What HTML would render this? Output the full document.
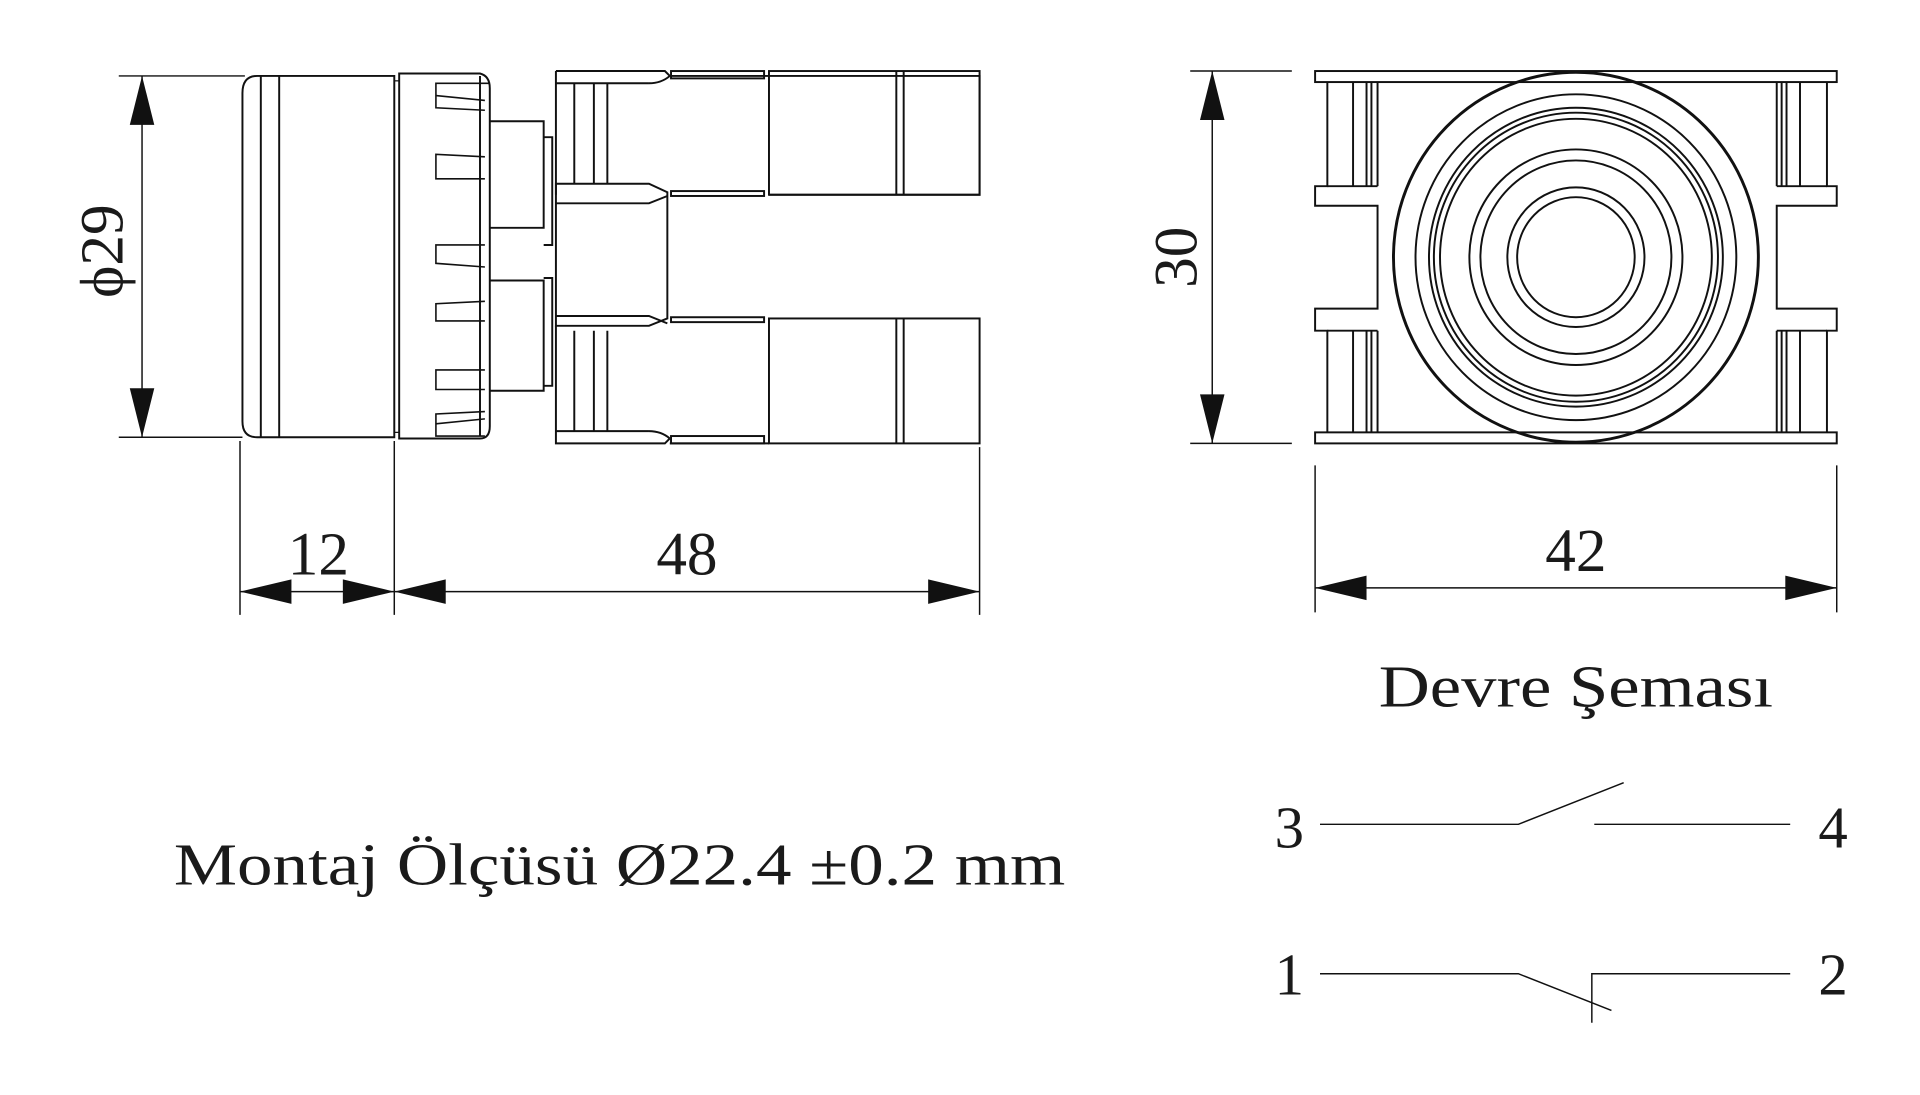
<!DOCTYPE html>
<html><head><meta charset="utf-8"><style>
html,body{margin:0;padding:0;background:#fff;}
svg{display:block;}
text{font-family:"Liberation Serif",serif;fill:#1a1a1a;}
</style></head><body>
<svg width="1920" height="1095" viewBox="0 0 1568 894" preserveAspectRatio="none" xmlns="http://www.w3.org/2000/svg">
<g fill="none" stroke="#111" stroke-width="1.6">
<!-- LEFT VIEW -->
<path d="M322,62 H210 Q198,62 198,76 V344 Q198,357 210,357 H322 Z"/>
<line x1="213" y1="62" x2="213" y2="357"/>
<line x1="228" y1="62" x2="228" y2="357"/>
<rect x="322" y="66" width="4" height="287" stroke-width="1"/>
<path d="M326,60 H392 Q400,62 400,72 V348 Q400,358 392,358 H326 Z"/>
<line x1="392" y1="62" x2="392" y2="356"/>
<g stroke-width="1.3">
<path d="M400,68 H356 V88 L396,90"/><path d="M356,78 L396,82"/>
<path d="M396,128 L356,126 V146 L396,146"/>
<path d="M396,200 L356,200 V215 L396,218"/>
<path d="M396,246 L356,248 V262 L396,262"/>
<path d="M396,302 L356,302 V318 L396,318"/>
<path d="M396,336 L356,338 V356 H396"/><path d="M356,346 L396,342"/>
</g>
<!-- stem -->
<path d="M400,99 H444 V186 H400"/>
<path d="M400,229 H444 V319 H400"/>
<path d="M444,112 H451 V200 H444"/>
<path d="M444,227 H451 V315 H444"/>
<!-- contact block top -->
<path d="M454,58 H543 L547,62 H800 V159 H628"/>
<path d="M454,58 V159"/>
<line x1="454" y1="68" x2="530" y2="68"/><path d="M530,68 Q540,68 547,62"/>
<line x1="469" y1="68" x2="469" y2="150"/>
<line x1="485" y1="68" x2="485" y2="150"/>
<line x1="496" y1="68" x2="496" y2="150"/>
<rect x="548" y="58" width="76" height="6"/>
<rect x="628" y="58" width="172" height="101"/>
<line x1="732" y1="58" x2="732" y2="159"/>
<line x1="738" y1="58" x2="738" y2="159"/>
<!-- middle -->
<path d="M454,150 H530 L545,157 V260 L530,266 H454 Z"/>
<path d="M454,166 H530 L545,160"/><path d="M454,258 H530 L545,264"/>
<rect x="548" y="156" width="76" height="4"/>
<rect x="548" y="259" width="76" height="4"/>
<!-- bottom block -->
<path d="M454,266 V362 H543 L547,358"/>
<line x1="454" y1="352" x2="530" y2="352"/><path d="M530,352 Q540,352 547,358"/>
<line x1="469" y1="270" x2="469" y2="352"/>
<line x1="485" y1="270" x2="485" y2="352"/>
<line x1="496" y1="270" x2="496" y2="352"/>
<rect x="548" y="356" width="76" height="6"/>
<rect x="628" y="260" width="172" height="102"/>
<line x1="732" y1="260" x2="732" y2="362"/>
<line x1="738" y1="260" x2="738" y2="362"/>
<line x1="547" y1="362" x2="628" y2="362"/>
</g>
<!-- dimensions -->
<g stroke="#111" stroke-width="1.2" fill="none">
<line x1="97" y1="62" x2="200" y2="62"/>
<line x1="97" y1="357" x2="198" y2="357"/>
<line x1="116" y1="62" x2="116" y2="357"/>
<line x1="196" y1="360" x2="196" y2="502"/>
<line x1="322" y1="360" x2="322" y2="502"/>
<line x1="800" y1="365" x2="800" y2="502"/>
<line x1="196" y1="483" x2="800" y2="483"/>
<line x1="1074" y1="380" x2="1074" y2="500"/>
<line x1="1500" y1="380" x2="1500" y2="500"/>
<line x1="1074" y1="480" x2="1500" y2="480"/>
<line x1="972" y1="58" x2="1055" y2="58"/>
<line x1="972" y1="362" x2="1055" y2="362"/>
<line x1="990" y1="58" x2="990" y2="362"/>
</g>
<g fill="#111">
<path d="M116,62 L106,102 L126,102 Z"/>
<path d="M116,357 L106,317 L126,317 Z"/>
<path d="M196,483 L238,473 L238,493 Z"/>
<path d="M322,483 L280,473 L280,493 Z"/>
<path d="M322,483 L364,473 L364,493 Z"/>
<path d="M800,483 L758,473 L758,493 Z"/>
<path d="M1074,480 L1116,470 L1116,490 Z"/>
<path d="M1500,480 L1458,470 L1458,490 Z"/>
<path d="M990,58 L980,98 L1000,98 Z"/>
<path d="M990,362 L980,322 L1000,322 Z"/>
</g>
<!-- RIGHT VIEW -->
<g fill="none" stroke="#111" stroke-width="1.6">
<rect x="1074" y="58" width="426" height="9"/>
<rect x="1074" y="353" width="426" height="9"/>
<path d="M1084,67 V152 H1074 V168 H1125 V252 H1074 V270 H1084 V353"/>
<path d="M1125,67 V152"/><path d="M1125,270 V353"/>
<path d="M1084,270 H1125"/><path d="M1084,152 H1125"/>
<line x1="1105" y1="67" x2="1105" y2="152"/><line x1="1116" y1="67" x2="1116" y2="152"/><line x1="1120" y1="67" x2="1120" y2="152"/>
<line x1="1105" y1="270" x2="1105" y2="353"/><line x1="1116" y1="270" x2="1116" y2="353"/><line x1="1120" y1="270" x2="1120" y2="353"/>
<path d="M1492,67 V152 H1500 V168 H1451 V252 H1500 V270 H1492 V353"/>
<path d="M1451,67 V152"/><path d="M1451,270 V353"/>
<path d="M1451,152 H1492"/><path d="M1451,270 H1492"/>
<line x1="1455" y1="67" x2="1455" y2="152"/><line x1="1459" y1="67" x2="1459" y2="152"/><line x1="1470" y1="67" x2="1470" y2="152"/>
<line x1="1455" y1="270" x2="1455" y2="353"/><line x1="1459" y1="270" x2="1459" y2="353"/><line x1="1470" y1="270" x2="1470" y2="353"/>
<ellipse cx="1287" cy="210" rx="149" ry="151" stroke-width="2.4"/>
<ellipse cx="1287" cy="210" rx="131" ry="133"/>
<ellipse cx="1287" cy="210" rx="120" ry="122"/>
<ellipse cx="1287" cy="210" rx="116" ry="118"/>
<ellipse cx="1287" cy="210" rx="111" ry="113"/>
<ellipse cx="1287" cy="210" rx="87" ry="88"/>
<ellipse cx="1287" cy="210" rx="78" ry="79"/>
<ellipse cx="1287" cy="210" rx="56" ry="57"/>
<ellipse cx="1287" cy="210" rx="48" ry="49"/>
</g>
<!-- switch diagram -->
<g fill="none" stroke="#111" stroke-width="1.2">
<path d="M1078,673 H1240 L1326,639"/>
<path d="M1302,673 H1462"/>
<path d="M1078,795 H1240 L1316,825"/>
<path d="M1300,835 V795 H1462"/>
</g>
<!-- texts -->
<text x="0" y="0" font-size="50" text-anchor="middle" transform="translate(100,205) rotate(-90)">ϕ29</text>
<text x="0" y="0" font-size="50" text-anchor="middle" transform="translate(977,210) rotate(-90)">30</text>
<text x="260" y="469" font-size="50" text-anchor="middle">12</text>
<text x="561" y="469" font-size="50" text-anchor="middle">48</text>
<text x="1287" y="466" font-size="50" text-anchor="middle">42</text>
<text x="1126" y="577" font-size="48" textLength="322" lengthAdjust="spacingAndGlyphs">Devre Şeması</text>
<text x="142" y="722" font-size="48" textLength="728" lengthAdjust="spacingAndGlyphs">Montaj Ölçüsü Ø22.4 ±0.2 mm</text>
<text x="1053" y="692" font-size="48" text-anchor="middle">3</text>
<text x="1497" y="692" font-size="48" text-anchor="middle">4</text>
<text x="1053" y="812" font-size="48" text-anchor="middle">1</text>
<text x="1497" y="812" font-size="48" text-anchor="middle">2</text>
</svg>
</body></html>
